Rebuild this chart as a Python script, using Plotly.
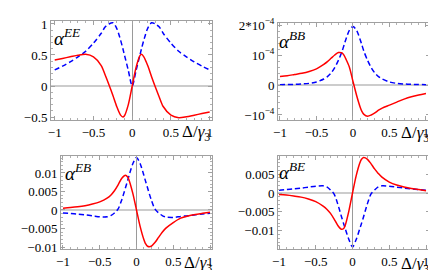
import plotly.graph_objects as go

# shared detuning grid (Delta / gamma_3)
X = [-1, -0.9, -0.8, -0.7, -0.6, -0.5, -0.4, -0.35, -0.3, -0.25, -0.2, -0.15, -0.12, -0.1, -0.05,
     0, 0.05, 0.1, 0.12, 0.15, 0.2, 0.25, 0.3, 0.35, 0.4, 0.5, 0.6, 0.7, 0.8, 0.9, 1]

# alpha^EE
EE_RED = [0.42, 0.445, 0.47, 0.495, 0.51, 0.47, 0.33, 0.18, 0.02, -0.15, -0.33, -0.47, -0.50, -0.48, -0.30,
          0.0, 0.30, 0.49, 0.51, 0.47, 0.33, 0.15, -0.02, -0.18, -0.33, -0.47, -0.51, -0.495, -0.47, -0.445, -0.42]
EE_BLUE = [0.26, 0.32, 0.39, 0.47, 0.56, 0.69, 0.85, 0.95, 1.0, 1.02, 0.93, 0.74, 0.6, 0.5, 0.25,
           0.0, 0.25, 0.5, 0.6, 0.74, 0.93, 1.02, 1.0, 0.95, 0.85, 0.69, 0.56, 0.47, 0.39, 0.32, 0.26]

# alpha^BB (units of 1e-4)
BB_SCALE = 1e-4
BB_RED = [0.28, 0.31, 0.35, 0.39, 0.45, 0.54, 0.69, 0.78, 0.89, 1.0, 1.08, 1.07, 0.98, 0.88, 0.6,
          0.12, -0.35, -0.75, -0.87, -0.98, -1.04, -1.0, -0.93, -0.84, -0.77, -0.67, -0.57, -0.47, -0.39, -0.33, -0.28]
BB_BLUE = [0.01, 0.015, 0.022, 0.035, 0.055, 0.1, 0.2, 0.28, 0.4, 0.58, 0.82, 1.12, 1.35, 1.5, 1.82,
           1.95, 1.82, 1.5, 1.35, 1.12, 0.82, 0.58, 0.4, 0.28, 0.2, 0.1, 0.055, 0.035, 0.022, 0.015, 0.01]

# alpha^EB (units of 1e-3)
EB_SCALE = 1e-3
EB_RED = [0.5, 0.65, 0.85, 1.15, 1.6, 2.2, 3.2, 4.0, 5.2, 6.8, 8.6, 9.4, 8.9, 8.0, 4.5,
          0.0, -4.5, -8.0, -9.0, -9.8, -9.8, -8.8, -7.4, -6.0, -4.9, -3.4, -2.2, -1.6, -1.2, -0.9, -0.6]
EB_BLUE = [-0.8, -0.95, -1.1, -1.3, -1.55, -1.85, -1.85, -1.5, -0.8, 0.3, 2.8, 6.0, 8.0, 9.4, 12.5,
           14.2, 12.5, 9.4, 8.0, 6.0, 2.8, 0.3, -0.8, -1.5, -1.9, -2.0, -1.75, -1.55, -1.3, -1.1, -0.9]

# alpha^BE (units of 1e-3)
BE_SCALE = 1e-3
BE_RED = [-0.4, -0.55, -0.8, -1.1, -1.6, -2.3, -3.5, -4.3, -5.4, -6.9, -8.6, -9.6, -9.4, -8.6, -4.8,
          0.0, 4.6, 8.0, 8.9, 9.4, 9.0, 7.8, 6.4, 5.2, 4.2, 2.9, 2.1, 1.6, 1.2, 0.9, 0.6]
BE_BLUE = [0.75, 0.9, 1.1, 1.3, 1.55, 1.8, 1.9, 1.6, 0.8, -0.3, -3.0, -6.3, -8.2, -9.4, -12.3,
           -14.3, -12.3, -9.4, -8.2, -6.3, -3.0, -0.3, 0.8, 1.6, 1.9, 1.8, 1.55, 1.3, 1.1, 0.9, 0.75]

X_TICKS = [-1, -0.5, 0, 0.5, 1]
X_TICKTEXT = ['−1', '−0.5', '0', '0.5', '1']

W, H = 436, 270
FONT = 'Liberation Serif'

panels = [
    dict(label='EE', red=EE_RED, blue=EE_BLUE, scale=1,
         xpx=(43, 204), ypx=(13, 112), xr=[-1.048, 1.030], yr=[-0.548, 1.048],
         yt=[-0.5, 0, 0.5, 1], ytt=['−0.5', '0', '0.5', '1'], ymin=0.1,
         lab=(44, 15), dl=(204, 125)),
    dict(label='BB', red=BB_RED, blue=BB_BLUE, scale=BB_SCALE,
         xpx=(270, 422), ypx=(15, 112), xr=[-1.027, 1.055], yr=[-1.167e-4, 2.067e-4],
         yt=[-1e-4, 0, 1e-4, 2e-4],
         ytt=['−10<sup>−4</sup>', '0', '10<sup>−4</sup>', '2*10<sup>−4</sup>'], ymin=0.2e-4,
         lab=(269, 18), dl=(423, 126)),
    dict(label='EB', red=EB_RED, blue=EB_BLUE, scale=EB_SCALE,
         xpx=(53, 204), ypx=(148, 241), xr=[-1.027, 1.027], yr=[-10.54e-3, 14.59e-3],
         yt=[-0.01, -0.005, 0, 0.005, 0.01],
         ytt=['−0.01', '−0.005', '0', '0.005', '0.01'], ymin=0.001,
         lab=(55, 150), dl=(206, 256)),
    dict(label='BE', red=BE_RED, blue=BE_BLUE, scale=BE_SCALE,
         xpx=(270, 422), ypx=(148, 241), xr=[-1.014, 1.054], yr=[-14.85e-3, 9.81e-3],
         yt=[-0.01, -0.005, 0, 0.005],
         ytt=['−0.01', '−0.005', '0', '0.005'], ymin=0.001,
         lab=(269, 149), dl=(423, 257)),
]

fig = go.Figure()
annotations = []
layout = {}
for i, p in enumerate(panels, start=1):
    xa = 'x' if i == 1 else f'x{i}'
    ya = 'y' if i == 1 else f'y{i}'
    red_vals = [v * p['scale'] for v in p['red']]
    blue_vals = [v * p['scale'] for v in p['blue']]
    fig.add_trace(go.Scatter(x=X, y=blue_vals, mode='lines', xaxis=xa, yaxis=ya,
                             line=dict(color='#0000ff', width=1.5, dash='5px,3px', shape='spline',
                                       smoothing=0.8),
                             showlegend=False, hoverinfo='skip'))
    fig.add_trace(go.Scatter(x=X, y=red_vals, mode='lines', xaxis=xa, yaxis=ya,
                             line=dict(color='#ff0000', width=1.5, shape='spline', smoothing=0.8),
                             showlegend=False, hoverinfo='skip'))
    common = dict(showline=True, linecolor='#a0a0a0', linewidth=1, mirror='allticks',
                  ticks='inside', ticklen=4, tickcolor='#a0a0a0', tickwidth=1,
                  showgrid=False, automargin=False,
                  tickfont=dict(family=FONT, size=13, color='black'), tickmode='array')
    layout['xaxis' if i == 1 else f'xaxis{i}'] = dict(
        common, domain=[p['xpx'][0] / W, p['xpx'][1] / W], range=p['xr'],
        anchor=ya, tickvals=X_TICKS, ticktext=X_TICKTEXT,
        zeroline=True, zerolinecolor='#9a9a9a', zerolinewidth=1,
        minor=dict(ticks='inside', ticklen=2, tickcolor='#b0b0b0', tickmode='linear',
                   tick0=0, dtick=0.1))
    layout['yaxis' if i == 1 else f'yaxis{i}'] = dict(
        common, domain=[1 - p['ypx'][1] / H, 1 - p['ypx'][0] / H], range=p['yr'],
        anchor=xa, tickvals=p['yt'], ticktext=p['ytt'],
        zeroline=True, zerolinecolor='#cccccc', zerolinewidth=2,
        minor=dict(ticks='inside', ticklen=2, tickcolor='#b0b0b0', tickmode='linear',
                   tick0=0, dtick=p['ymin']))
    annotations.append(dict(
        text=f"<i>α</i><sup><i>{p['label']}</i></sup>", xref='paper', yref='paper',
        x=p['lab'][0] / W, y=1 - p['lab'][1] / H, xanchor='left', yanchor='top',
        showarrow=False, font=dict(family=FONT, size=19, color='black')))
    annotations.append(dict(
        text="Δ/<i>γ</i><sub>3</sub>", xref='paper', yref='paper',
        x=p['dl'][0] / W, y=1 - p['dl'][1] / H, xanchor='right', yanchor='middle',
        showarrow=False, font=dict(family=FONT, size=17, color='black')))

fig.update_layout(width=W, height=H, margin=dict(l=0, r=0, t=0, b=0),
                  paper_bgcolor='white', plot_bgcolor='white',
                  annotations=annotations, **layout)
fig.write_html("out.html")
